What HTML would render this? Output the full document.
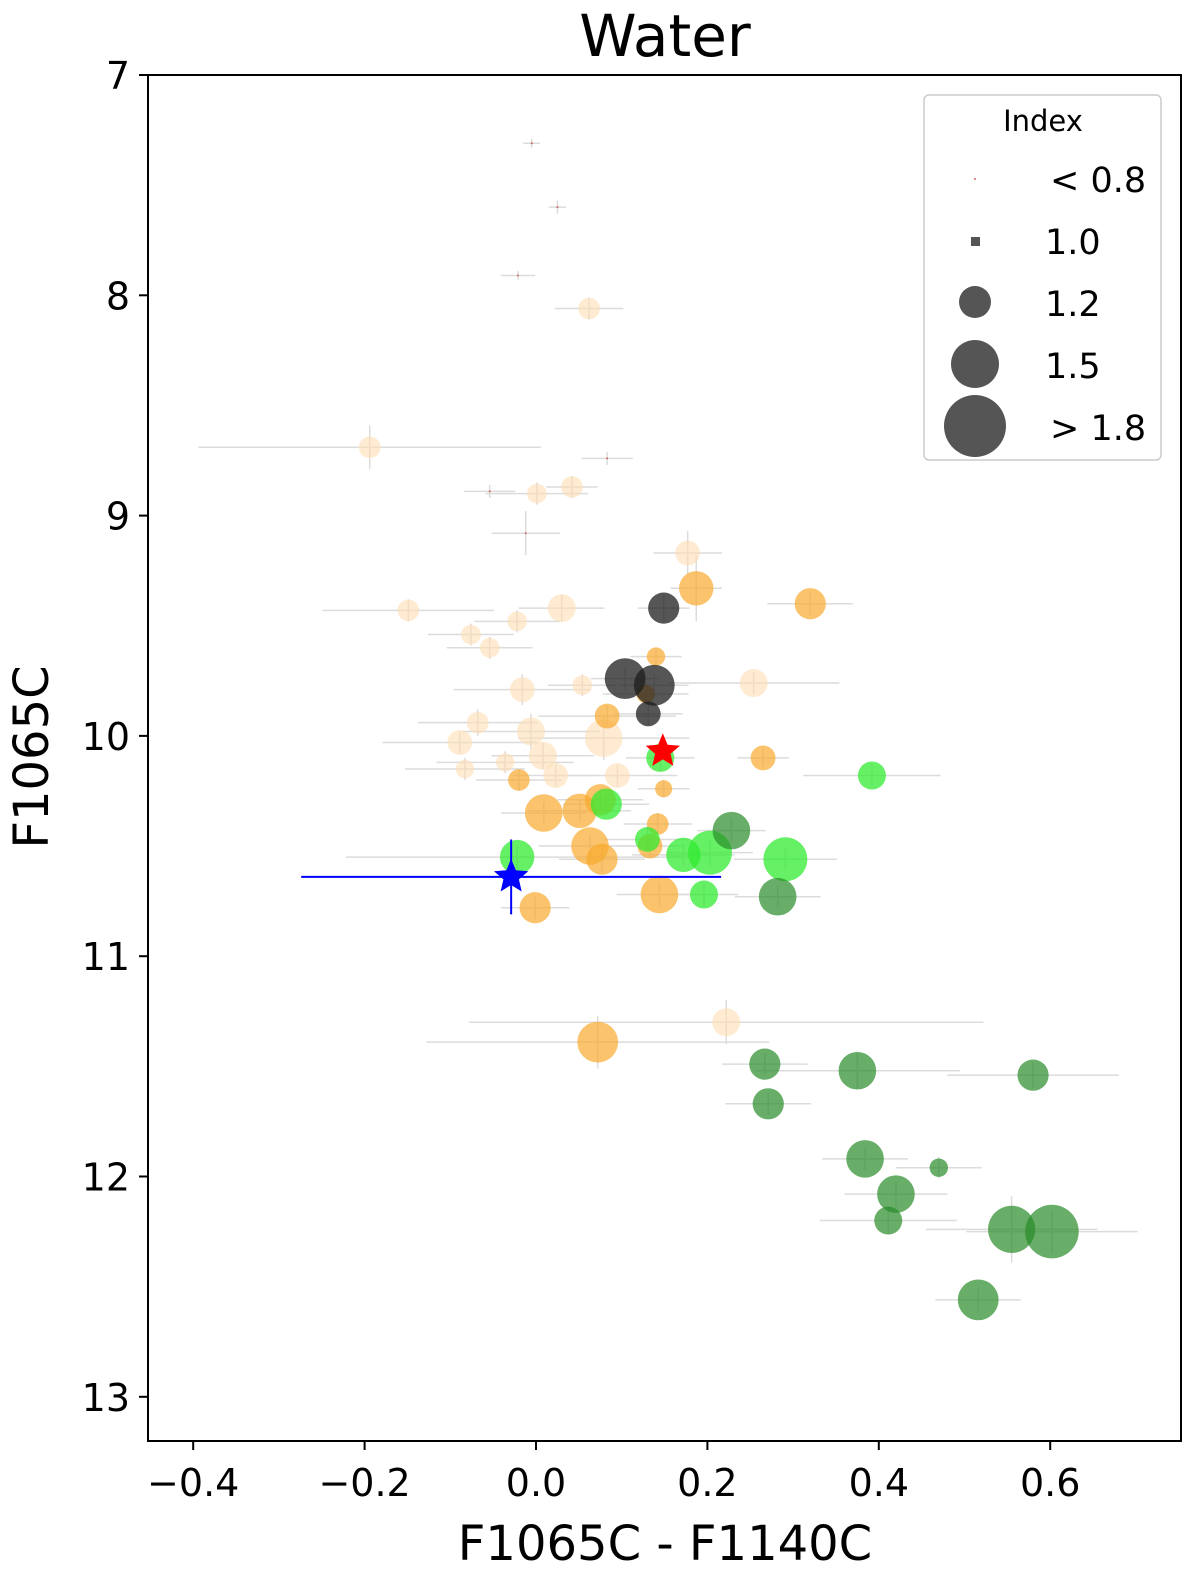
<!DOCTYPE html>
<html><head><meta charset="utf-8"><style>
body{margin:0;background:#fff}
svg{font-family:"DejaVu Sans","Liberation Sans",sans-serif}
</style></head><body>
<svg width="1200" height="1581" viewBox="0 0 1200 1581">
<text x="665" y="56" font-size="58" text-anchor="middle">Water</text>
<g id="errs"></g>
<g id="marks"></g>
<rect x="148" y="75" width="1033" height="1366" fill="none" stroke="#000" stroke-width="2"/>
<g id="axes"></g>
<text x="665" y="1560" font-size="48" text-anchor="middle">F1065C - F1140C</text>
<text transform="translate(48,757) rotate(-90)" font-size="48" text-anchor="middle">F1065C</text>
<g>
<rect x="924" y="95" width="237" height="365" rx="5" fill="#fff" stroke="#ccc" stroke-width="1.5"/>
<text x="1043" y="131" font-size="29" text-anchor="middle">Index</text>
<circle cx="975" cy="179" r="1" fill="#c66"/>
<rect x="971" y="237" width="9" height="9" fill="#555"/>
<circle cx="975" cy="302" r="16" fill="#555"/>
<circle cx="975" cy="364" r="24" fill="#555"/>
<circle cx="975" cy="426" r="31" fill="#555"/>
<text x="1050" y="192" font-size="35">&lt; 0.8</text>
<text x="1045" y="254" font-size="35">1.0</text>
<text x="1045" y="316" font-size="35">1.2</text>
<text x="1045" y="378" font-size="35">1.5</text>
<text x="1050" y="440" font-size="35">&gt; 1.8</text>
</g>
</svg>
<script>
const NS="http://www.w3.org/2000/svg";
const xTicks=[-0.4,-0.2,0.0,0.2,0.4,0.6];
const xTickLabels=["\u22120.4","\u22120.2","0.0","0.2","0.4","0.6"];
const yTicks=[7,8,9,10,11,12,13];
const yTickLabels=["7","8","9","10","11","12","13"];
// groups: 0 peach,1 orange,2 gray,3 light green,4 dark green,5 tiny
const colorX=[0.062,-0.194,0.001,0.042,0.177,-0.149,0.030,-0.022,-0.076,-0.054,-0.016,0.054,0.254,-0.068,-0.006,-0.089,0.079,0.008,-0.083,-0.036,0.023,0.095,0.222,
0.187,0.320,0.140,0.128,0.083,0.265,-0.020,0.149,0.009,0.051,0.075,0.142,0.063,0.077,0.133,0.144,-0.001,0.072,
0.149,0.104,0.138,0.131,
0.145,0.392,0.082,-0.022,0.172,0.203,0.291,0.196,0.130,
0.228,0.282,0.267,0.271,0.375,0.580,0.384,0.470,0.420,0.411,0.555,0.602,0.516,
-0.005,0.025,-0.021,-0.054,0.083,-0.012];
const magY=[8.06,8.69,8.90,8.87,9.17,9.43,9.42,9.48,9.54,9.60,9.79,9.77,9.76,9.94,9.98,10.03,10.01,10.09,10.15,10.12,10.18,10.18,11.30,
9.33,9.40,9.64,9.81,9.91,10.10,10.20,10.24,10.35,10.34,10.29,10.40,10.50,10.56,10.50,10.72,10.78,11.39,
9.42,9.74,9.77,9.90,
10.10,10.18,10.31,10.55,10.54,10.53,10.56,10.72,10.47,
10.43,10.73,11.49,11.67,11.52,11.54,11.92,11.96,12.08,12.20,12.24,12.25,12.56,
7.31,7.60,7.91,8.89,8.74,9.08];
const indexVal=[1.15,1.15,1.12,1.15,1.2,1.15,1.25,1.12,1.12,1.12,1.2,1.12,1.25,1.15,1.25,1.2,1.4,1.25,1.1,1.1,1.2,1.2,1.25,
1.35,1.3,1.1,1.1,1.2,1.2,1.15,1.08,1.4,1.35,1.3,1.15,1.4,1.3,1.2,1.4,1.3,1.45,
1.3,1.45,1.45,1.2,
1.25,1.25,1.3,1.35,1.35,1.5,1.5,1.25,1.2,
1.4,1.4,1.3,1.3,1.4,1.3,1.4,1.1,1.4,1.25,1.55,1.65,1.45,
0.7,0.7,0.7,0.7,0.7,0.7];
const group=[0,0,0,0,0,0,0,0,0,0,0,0,0,0,0,0,0,0,0,0,0,0,0,
1,1,1,1,1,1,1,1,1,1,1,1,1,1,1,1,1,1,
2,2,2,2,
3,3,3,3,3,3,3,3,3,
4,4,4,4,4,4,4,4,4,4,4,4,4,
5,5,5,5,5,5];
const xErr=[0.04,0.2,0.06,0.03,0.04,0.1,0.05,0.05,0.05,0.05,0.08,0.04,0.1,0.07,0.08,0.09,0.1,0.06,0.07,0.08,0.05,0.07,0.3,
0.03,0.05,0.03,0.05,0.08,0.03,0.05,0.03,0.05,0.06,0.05,0.04,0.06,0.05,0.04,0.05,0.04,0.2,
0.03,0.04,0.04,0.04,
0.04,0.08,0.05,0.2,0.06,0.05,0.06,0.04,0.05,
0.04,0.05,0.05,0.05,0.12,0.1,0.05,0.05,0.06,0.08,0.1,0.1,0.05,
0.01,0.01,0.02,0.03,0.03,0.04];
const yErr=[0.05,0.1,0.05,0.05,0.1,0.05,0.06,0.05,0.05,0.05,0.07,0.05,0.05,0.06,0.08,0.05,0.1,0.06,0.05,0.05,0.05,0.05,0.1,
0.15,0.05,0.04,0.05,0.05,0.04,0.05,0.04,0.05,0.05,0.05,0.05,0.05,0.06,0.05,0.05,0.05,0.12,
0.06,0.05,0.05,0.05,
0.06,0.05,0.05,0.05,0.05,0.06,0.05,0.05,0.06,
0.05,0.05,0.05,0.05,0.08,0.06,0.05,0.05,0.06,0.06,0.15,0.1,0.05,
0.02,0.03,0.02,0.03,0.03,0.1];
const fills=["rgba(253,222,180,0.6)","rgba(248,170,45,0.7)","rgba(30,30,30,0.75)","rgba(50,235,50,0.75)","rgba(40,140,40,0.7)","#c66"];
const groupNames=["peach","orange","gray","light-green","dark-green","tiny"];
const starX=[0.148,-0.029],starY=[10.07,10.64],starXerr=[0,0.245],starYerr=[0,0.17];
const x=v=>536+v*857, y=v=>75+(v-7)*220.3;
function radius(v){if(v<0.8)return 1;return 6+(v-1.0)*32;}
const errs=document.getElementById('errs'),marks=document.getElementById('marks'),axes=document.getElementById('axes');
function line(p,x1,y1,x2,y2,st,w){const l=document.createElementNS(NS,'line');l.setAttribute('x1',x1);l.setAttribute('y1',y1);l.setAttribute('x2',x2);l.setAttribute('y2',y2);l.setAttribute('stroke',st);l.setAttribute('stroke-width',w);p.appendChild(l);return l;}
for(let i=0;i<colorX.length;i++){
 const cx=x(colorX[i]),cy=y(magY[i]);
 const a=line(errs,x(colorX[i]-xErr[i]),cy,x(colorX[i]+xErr[i]),cy,"#dcdcdc",1.5);
 
 
 const b=line(errs,cx,y(magY[i]-yErr[i]),cx,y(magY[i]+yErr[i]),"#dcdcdc",1.5);
 
 
 const c=document.createElementNS(NS,'circle');
 c.setAttribute('cx',cx);c.setAttribute('cy',cy);c.setAttribute('r',radius(indexVal[i]));c.setAttribute('fill',fills[group[i]]);
 
 
 marks.appendChild(c);
}
function star(cx,cy,r,col,name){const p=document.createElementNS(NS,'polygon');let pts=[];for(let k=0;k<10;k++){const a=-Math.PI/2+k*Math.PI/5,rr=k%2?r*0.45:r;pts.push((cx+rr*Math.cos(a)).toFixed(1)+','+(cy+rr*Math.sin(a)).toFixed(1));}p.setAttribute('points',pts.join(' '));p.setAttribute('fill',col);


marks.appendChild(p);}
const starCols=["#f00","#00f"],starNames=["red-star","blue-star"];
for(let i=0;i<2;i++){
 const cx=x(starX[i]),cy=y(starY[i]);
 if(starXerr[i]){const l1=line(marks,x(starX[i]-starXerr[i]),cy,x(starX[i]+starXerr[i]),cy,starCols[i],2);
 
 
 const l2=line(marks,cx,y(starY[i]-starYerr[i]),cx,y(starY[i]+starYerr[i]),starCols[i],2);
 
 }
 star(cx,cy,18,starCols[i],starNames[i]);
}
xTicks.forEach((v,i)=>{const X=x(v);const t=line(axes,X,1441,X,1450,"#000",2);


const tx=document.createElementNS(NS,'text');tx.setAttribute('x',X);tx.setAttribute('y',1496);tx.setAttribute('font-size','38');tx.setAttribute('text-anchor','middle');tx.textContent=xTickLabels[i];


axes.appendChild(tx);});
yTicks.forEach((v,i)=>{const Y=y(v);const t=line(axes,139,Y,148,Y,"#000",2);


const tx=document.createElementNS(NS,'text');tx.setAttribute('x',130);tx.setAttribute('y',Y+14);tx.setAttribute('font-size','38');tx.setAttribute('text-anchor','end');tx.textContent=yTickLabels[i];


axes.appendChild(tx);});
</script>
</body></html>
